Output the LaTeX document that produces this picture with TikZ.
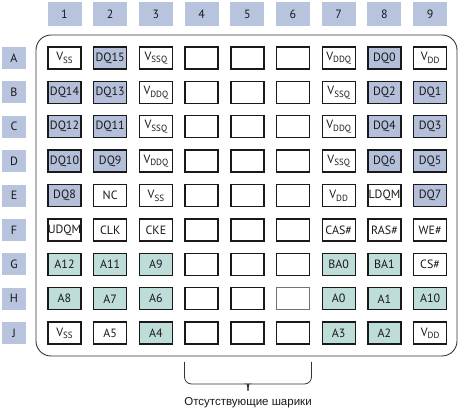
\documentclass[tikz,border=0pt]{standalone}
\usepackage{fontspec}
\setmainfont{PT Sans}
\newfontfamily\captionfont{Liberation Sans}
\definecolor{hdrblue}{RGB}{184,195,221}
\definecolor{dqblue}{RGB}{180,191,218}
\definecolor{addrgreen}{RGB}{191,221,216}
\newcommand{\vsub}[1]{V\raisebox{-2.6pt}{\fontsize{9}{9}\selectfont #1}}

\begin{document}
\begin{tikzpicture}[x=1pt,y=-1pt,
    every node/.style={inner sep=0pt,font=\fontsize{12}{14}\selectfont,text=black!90},
    colhdr/.style={fill=hdrblue,minimum width=34pt,minimum height=24pt},
    rowhdr/.style={fill=hdrblue,minimum width=24pt,minimum height=22pt},
    pinw/.style={draw=black!90,line width=1.4pt,fill=white,minimum width=33pt,minimum height=22pt},
    pindq/.style={pinw,fill=dqblue},
    pinad/.style={pinw,fill=addrgreen},
    pinno/.style={pinw,draw=black!55,line width=1pt},
    chip/.style={draw=black!80,line width=0.9pt,rounded corners=15pt},
    brace/.style={draw=black!80,line width=0.8pt}
   ]
\useasboundingbox (0,0) rectangle (461,411);

% package outline
\path[chip] (36,35) rectangle (457,356);

% headers
\foreach \c in {1,...,9}
  \node[colhdr] (col\c) at (64.5+45.7*\c-45.7,14) {\c};
\foreach \r [count=\j] in {A,B,C,D,E,F,G,H,J}
  \node[rowhdr] (row\r) at (14,58+34.4*\j-34.4) {\r};

% balls, row by row
\foreach \s/\t [count=\i] in {w/\vsub{SS},dq/DQ15,w/\vsub{SSQ},w/,w/,w/,w/\vsub{DDQ},dq/DQ0,w/\vsub{DD}}
  \node[pin\s] (A\i) at (col\i |- rowA) {\t};
\foreach \s/\t [count=\i] in {dq/DQ14,dq/DQ13,w/\vsub{DDQ},w/,w/,w/,w/\vsub{SSQ},dq/DQ2,dq/DQ1}
  \node[pin\s] (B\i) at (col\i |- rowB) {\t};
\foreach \s/\t [count=\i] in {dq/DQ12,dq/DQ11,w/\vsub{SSQ},w/,w/,w/,w/\vsub{DDQ},dq/DQ4,dq/DQ3}
  \node[pin\s] (C\i) at (col\i |- rowC) {\t};
\foreach \s/\t [count=\i] in {dq/DQ10,dq/DQ9,w/\vsub{DDQ},w/,w/,w/,w/\vsub{SSQ},dq/DQ6,dq/DQ5}
  \node[pin\s] (D\i) at (col\i |- rowD) {\t};
\foreach \s/\t [count=\i] in {dq/DQ8,w/NC,w/\vsub{SS},w/,w/,w/,w/\vsub{DD},w/LDQM,dq/DQ7}
  \node[pin\s] (E\i) at (col\i |- rowE) {\t};
\foreach \s/\t [count=\i] in {w/UDQM,w/CLK,w/CKE,w/,w/,w/,w/CAS\#,w/RAS\#,w/WE\#}
  \node[pin\s] (F\i) at (col\i |- rowF) {\t};
\foreach \s/\t [count=\i] in {ad/A12,ad/A11,ad/A9,w/,w/,w/,ad/BA0,ad/BA1,w/CS\#}
  \node[pin\s] (G\i) at (col\i |- rowG) {\t};
\foreach \s/\t [count=\i] in {ad/A8,ad/A7,ad/A6,w/,w/,no/,ad/A0,ad/A1,ad/A10}
  \node[pin\s] (H\i) at (col\i |- rowH) {\t};
\foreach \s/\t [count=\i] in {w/\vsub{SS},w/A5,ad/A4,w/,w/,w/,ad/A3,ad/A2,w/\vsub{DD}}
  \node[pin\s] (J\i) at (col\i |- rowJ) {\t};

% missing balls
\node[font=\captionfont\fontsize{11.5}{13}\selectfont] (missing) at (248,403) {Отсутствующие шарики};
\coordinate (tip) at (missing.north |- 0,391);
\path[brace] (184.5,362) {[rounded corners=7pt] -- (184.5,384) -- (242,384)}
  .. controls (246,384) and (248,386) .. (tip);
\path[brace] (311.5,362) {[rounded corners=7pt] -- (311.5,384) -- (254,384)}
  .. controls (250,384) and (248,386) .. (tip);
\end{tikzpicture}
\end{document}
